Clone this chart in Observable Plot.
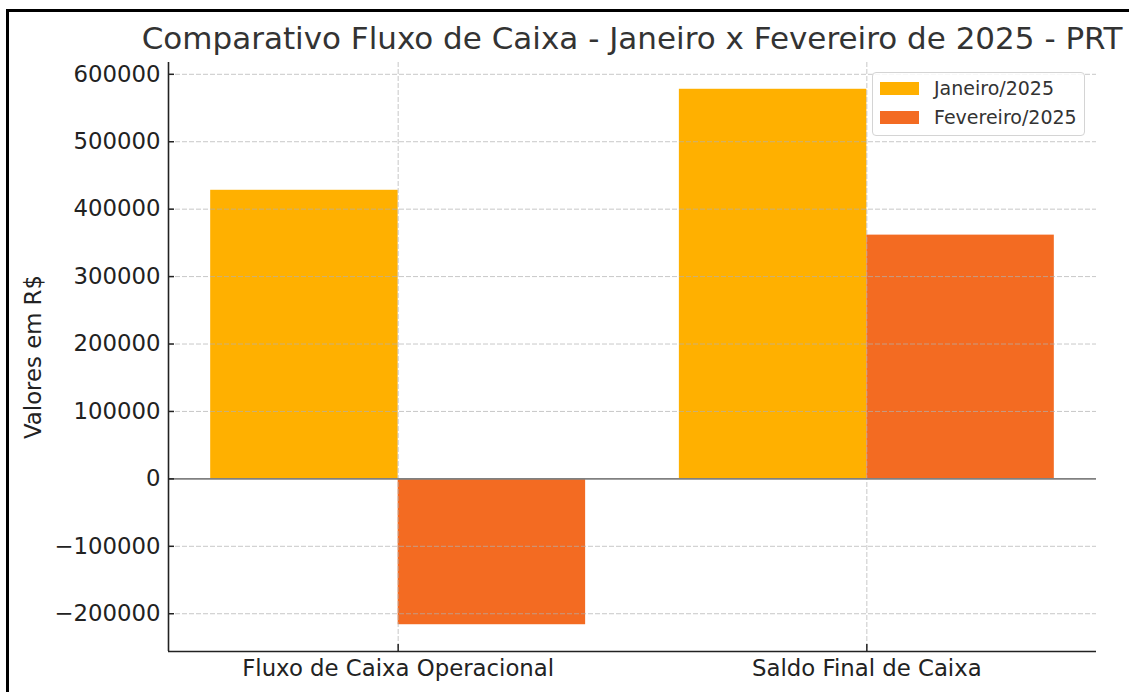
<!DOCTYPE html>
<html>
<head>
<meta charset="utf-8">
<script src="https://cdn.jsdelivr.net/npm/d3@7"></script>
<script src="https://cdn.jsdelivr.net/npm/@observablehq/plot@0.6"></script>
<style>
  html, body { margin: 0; padding: 0; background: #fff; }
  body { width: 1129px; height: 692px; position: relative; overflow: hidden; font-family: "DejaVu Sans", sans-serif; }
  #frame { position: absolute; left: 6px; top: 9px; width: 1200px; height: 800px; border-top: 3px solid #000; border-left: 3px solid #000; box-sizing: border-box; pointer-events: none; }
  #title { position: absolute; left: 132px; width: 1000px; top: 18px; text-align: center; font-size: 31px; color: #333; white-space: nowrap; line-height: 40px; }
  #chart { position: absolute; left: 0; top: 0; }
  #ylabel { position: absolute; left: 33px; top: 357px; transform: translate(-50%, -50%) rotate(-90deg); font-size: 22.8px; color: #222; white-space: nowrap; }
  #legend { position: absolute; left: 872px; top: 72px; width: 213px; height: 64px; box-sizing: border-box; border: 1.5px solid #d4d4d4; border-radius: 4px; background: rgba(255,255,255,0.85); font-size: 19px; color: #333; }
  .item { position: absolute; left: 7px; height: 20px; display: flex; align-items: center; }
  .sw { width: 39px; height: 13px; margin-right: 15px; }
</style>
</head>
<body>
<div id="chart"></div>
<div id="title"></div>
<div id="ylabel"></div>
<div id="legend"></div>
<div id="frame"></div>
<script>
const title = "Comparativo Fluxo de Caixa - Janeiro x Fevereiro de 2025 - PRT";
const categories = ["Fluxo de Caixa Operacional", "Saldo Final de Caixa"];
const series = ["Janeiro/2025", "Fevereiro/2025"];
const janeiro = [428000, 577800];
const fevereiro = [-216300, 361500];
const colors = ["#FFB000", "#F36B22"];
const yTicks = [-200000, -100000, 0, 100000, 200000, 300000, 400000, 500000, 600000];
const yLabel = "Valores em R$";

const values = [janeiro, fevereiro];
const barWidth = 0.4;
const rows = [];
categories.forEach((cat, i) => {
  series.forEach((s, k) => {
    rows.push({cat, series: s, value: values[k][i], i, k});
  });
});

// matplotlib-like auto limits (5% margins)
const xMin = -barWidth, xMax = categories.length - 1 + barWidth;
const xPad = (xMax - xMin) * 0.05;
const allVals = rows.map(d => d.value);
const yLo = Math.min(0, d3.min(allVals)), yHi = Math.max(0, d3.max(allVals));
const yPad = (yHi - yLo) * 0.05;
const xDomain = [xMin - xPad, xMax + xPad];
const yDomain = [yLo - yPad, yHi + yPad];

const fmt = v => v < 0 ? "\u2212" + Math.abs(v) : String(v);

const chart = Plot.plot({
  width: 1129,
  height: 692,
  marginTop: 62,
  marginBottom: 41,
  marginLeft: 168,
  marginRight: 33,
  style: {fontFamily: "DejaVu Sans", fontSize: "22.8px", color: "#222", background: "transparent"},
  x: {domain: xDomain},
  y: {domain: yDomain},
  color: {domain: series, range: colors},
  marks: [
    Plot.rect(rows, {
      x1: d => d.i + (d.k === 0 ? -barWidth : 0),
      x2: d => d.i + (d.k === 0 ? 0 : barWidth),
      y1: 0,
      y2: "value",
      fill: "series"
    }),
    Plot.gridY(yTicks.filter(t => t !== 0), {stroke: "#b0b0b0", strokeOpacity: 0.7, strokeWidth: 1, strokeDasharray: "5,2"}),
    Plot.gridX(categories.map((c, i) => i), {stroke: "#b0b0b0", strokeOpacity: 0.7, strokeWidth: 1, strokeDasharray: "5,2"}),
    Plot.ruleY([0], {stroke: "#808080", strokeWidth: 1.6}),
    Plot.axisY({ticks: yTicks, tickFormat: fmt, tickSize: -6, tickPadding: 14, strokeWidth: 1.5, label: null, fill: "#222"}),
    Plot.axisX({ticks: categories.map((c, i) => i), tickFormat: i => categories[i], tickSize: -7, tickPadding: 15, strokeWidth: 1.5, label: null, fill: "#222"}),
    Plot.ruleX([xDomain[0]], {stroke: "#222", strokeWidth: 1.6}),
    Plot.ruleY([yDomain[0]], {stroke: "#222", strokeWidth: 1.6})
  ]
});
document.getElementById("chart").appendChild(chart);
document.getElementById("title").textContent = title;
document.getElementById("ylabel").textContent = yLabel;

const legend = document.getElementById("legend");
series.forEach((s, k) => {
  const item = document.createElement("div");
  item.className = "item";
  item.style.top = (k === 0 ? 5 : 34) + "px";
  const sw = document.createElement("div");
  sw.className = "sw";
  sw.style.background = colors[k];
  const t = document.createElement("span");
  t.textContent = s;
  item.appendChild(sw);
  item.appendChild(t);
  legend.appendChild(item);
});
</script>
</body>
</html>
